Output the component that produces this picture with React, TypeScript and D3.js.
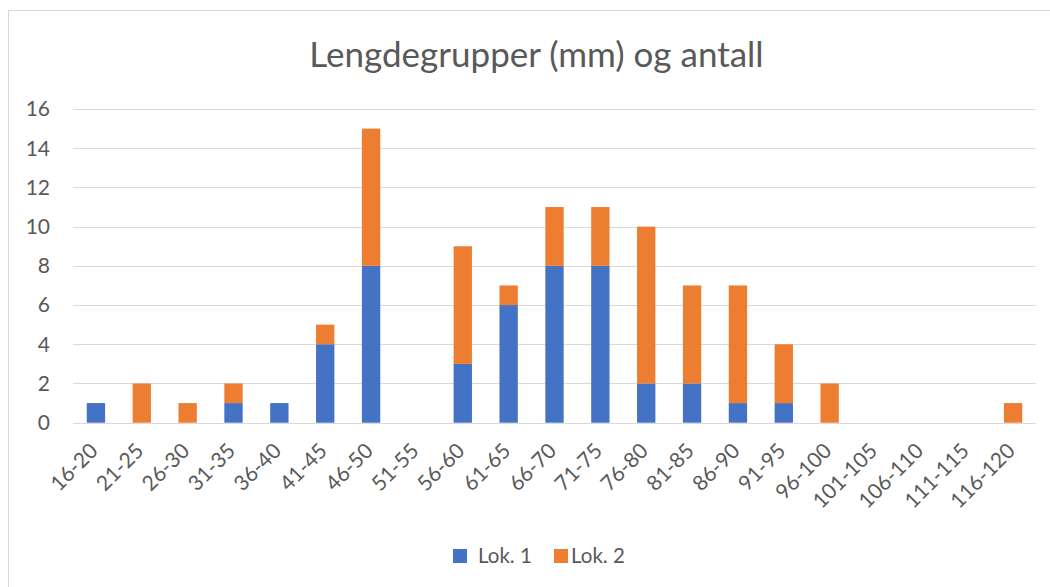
import React from "react";
import * as d3 from "d3";

const categories = [
  "16-20", "21-25", "26-30", "31-35", "36-40", "41-45", "46-50", "51-55",
  "56-60", "61-65", "66-70", "71-75", "76-80", "81-85", "86-90", "91-95",
  "96-100", "101-105", "106-110", "111-115", "116-120",
];
const lok1 = [1, 0, 0, 1, 1, 4, 8, 0, 3, 6, 8, 8, 2, 2, 1, 1, 0, 0, 0, 0, 0];
const lok2 = [0, 2, 1, 1, 0, 1, 7, 0, 6, 1, 3, 3, 8, 5, 6, 3, 2, 0, 0, 0, 1];
const seriesNames = ["Lok. 1", "Lok. 2"];
const seriesColors = ["#4472C4", "#ED7D31"];
const yTicks = [0, 2, 4, 6, 8, 10, 12, 14, 16];
const title = "Lengdegrupper (mm) og antall";

const W = 1050;
const H = 587;
const FONT = "Lato, 'Open Sans', sans-serif";
const TEXT = "#595959";

export default function App() {
  const x = d3.scaleBand<string>().domain(categories).range([73, 1036]).paddingInner(0.6).paddingOuter(0.3);
  const y = d3.scaleLinear().domain([0, 16]).range([422.7, 109]);

  const rows = categories.map((c, i) => ({ cat: c, s0: lok1[i], s1: lok2[i] }));
  const stack = d3.stack<any>().keys(["s0", "s1"]);
  const layers = stack(rows);

  return (
    <svg width={W} height={H} style={{ position: "absolute", left: 0, top: 0, background: "#fff" }}>
      <rect x={8.5} y={10.5} width={1100} height={700} fill="#fff" stroke="#d9d9d9" strokeWidth={1} />
      <text x={536.5} y={67} textAnchor="middle" fontFamily={FONT} fontSize={35} fill={TEXT}>{title}</text>
      {yTicks.map((t) => (
        <g key={t}>
          <line x1={73} x2={1036} y1={Math.round(y(t)) + 0.5} y2={Math.round(y(t)) + 0.5} stroke="#d9d9d9" strokeWidth={1.2} />
          <text x={50} y={y(t)} dy="0.35em" textAnchor="end" fontFamily={FONT} fontSize={21} fill={TEXT}>{t}</text>
        </g>
      ))}
      {layers.map((layer, li) => (
        <g key={li} fill={seriesColors[li]}>
          {layer.map((d, i) => {
            const h = y(d[0]) - y(d[1]);
            if (h <= 0) return null;
            return (
              <rect key={i} x={x(categories[i])!} width={x.bandwidth()} y={y(d[1])} height={h} />
            );
          })}
        </g>
      ))}
      {categories.map((c) => {
        const cx = x(c)! + x.bandwidth() / 2 - 2;
        const cy = 447;
        return (
          <text key={c} x={cx} y={cy} textAnchor="end" fontFamily={FONT} fontSize={21} fill={TEXT}
            transform={`rotate(-45 ${cx} ${cy})`} dy="0.35em">{c}</text>
        );
      })}
      <g>
        <rect x={453} y={549} width={14} height={14} fill={seriesColors[0]} />
        <text x={478} y={563} fontFamily={FONT} fontSize={20.5} fill={TEXT}>{seriesNames[0]}</text>
        <rect x={554} y={549} width={14} height={14} fill={seriesColors[1]} />
        <text x={571} y={563} fontFamily={FONT} fontSize={20.5} fill={TEXT}>{seriesNames[1]}</text>
      </g>
    </svg>
  );
}
